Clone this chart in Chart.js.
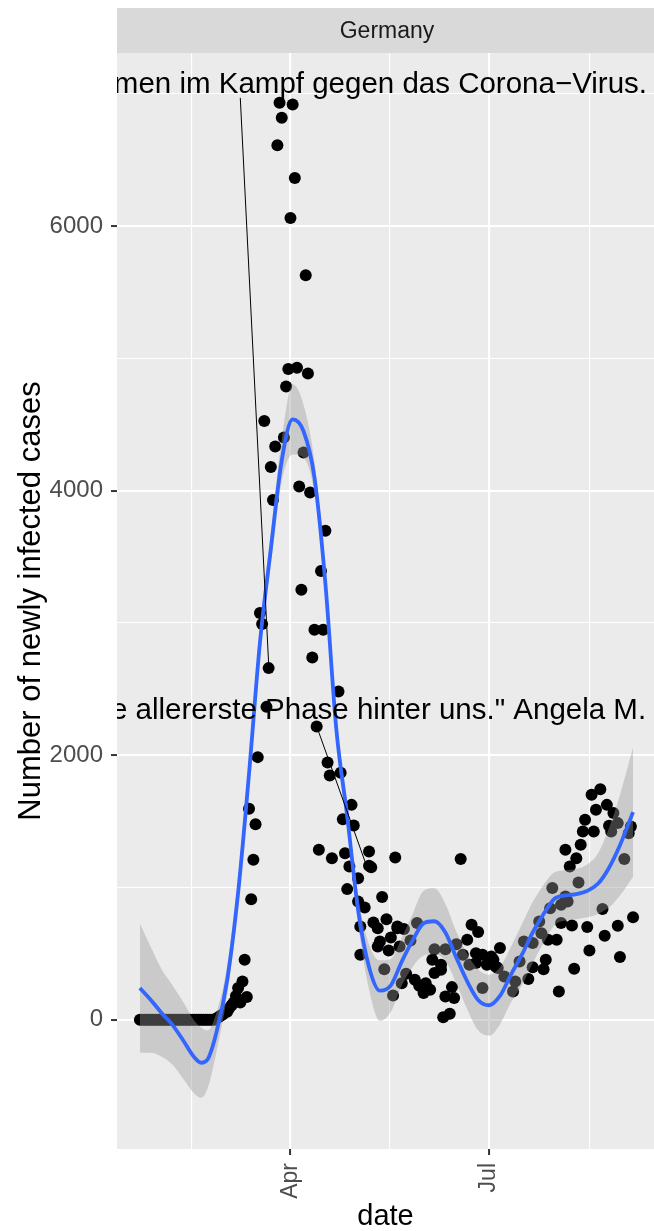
<!DOCTYPE html>
<html>
<head>
<meta charset="utf-8">
<title>Germany - newly infected cases</title>
<script src="https://cdn.jsdelivr.net/npm/chart.js"></script>
<style>
  html, body { margin: 0; padding: 0; background: #ffffff; }
  #chart { display: block; }
</style>
</head>
<body>
<canvas id="chart" width="654" height="1231"></canvas>
<script>
// days are counted from 1 Jan 2020 (= day 0), so 1 Apr is day 91 and 1 Jul is day 182
const caseDay = [
  22, 23, 24, 25, 26, 27, 28, 29, 30, 31, 32, 33, 34, 35, 36, 37, 38, 39, 40, 41,
  42, 43, 44, 45, 46, 47, 48, 49, 50, 51, 52, 53, 54, 55, 56,
  57, 58, 59, 60, 61, 62, 63, 64, 65, 66, 67, 68, 69, 70, 71,
  72, 73, 74, 75, 76, 77, 78, 79, 80, 81, 82, 83, 84, 85, 86, 87, 88, 89, 90, 91,
  92, 93, 94, 95, 96, 97, 98, 99, 100, 101, 102, 103, 104, 105, 106, 107, 108, 109, 110,
  113, 114, 115, 116, 117, 118, 119, 120, 122, 122, 123, 123, 125, 127, 127, 128, 129,
  131, 131, 132, 133, 134, 135, 136, 137, 138, 139, 140, 140, 141, 142, 143, 144, 146,
  148, 149, 150, 152, 153, 155, 156, 157, 157, 160, 160, 161, 162, 162, 164, 165, 166,
  167, 169, 170, 172, 173, 174, 176, 176, 177, 179, 179, 181, 183, 184, 185, 186, 187,
  189, 193, 194, 196, 198, 200, 202, 202, 205, 206, 207, 208, 209, 210, 211, 213, 214,
  215, 215, 217, 217, 218, 219, 220, 221, 222, 223, 224, 225, 226, 227, 228, 229, 230,
  231, 233, 234, 235, 236, 237, 238, 239, 241, 241, 242, 244, 246, 247, 248
];
const caseCount = [
  0, 0, 0, 0, 0, 0, 0, 0, 0, 0, 0, 0, 0, 0, 0, 0, 0, 0, 0, 0,
  0, 0, 0, 0, 0, 0, 0, 0, 0, 0, 0, 0, 0, 0, 0,
  10, 20, 30, 40, 60, 60, 90, 110, 130, 180, 240, 130, 290, 454, 172,
  1595, 912, 1210, 1479, 1986, 3075, 2992, 4528, 2366, 2659, 4180, 3931, 4334, 6612, 6933, 6821, 4402, 4788, 4921, 6063,
  6920, 6365, 4931, 4032, 3251, 4289, 5630, 4886, 3986, 2739, 2949, 2217, 1285, 3394, 2949, 3697, 1945, 1847, 1222,
  2482, 1867, 1517, 1260, 988, 1159, 1625, 1469, 1071, 894, 491, 705, 849, 1164, 1273, 1154, 736,
  554, 693, 592, 928, 383, 761, 524, 622, 184, 1227, 705, 693, 554, 277, 686, 348, 599,
  302, 731, 257, 202, 277, 227, 454, 353, 534, 378, 416, 20, 176, 534, 45, 247, 164,
  572, 1215, 491, 605, 416, 718, 504, 429, 663, 491, 240, 416, 479, 454, 403, 391, 542,
  327, 214, 290, 441, 592, 308, 580, 398, 743, 655, 383, 454, 605, 843, 996, 605, 214,
  869, 731, 1285, 932, 894, 1159, 713, 386, 1222, 1038, 1323, 1424, 1512, 701, 524, 1701, 1424,
  1588, 1744, 837, 635, 1625, 1467, 1424, 1563, 711, 1487, 474, 1215, 1411, 1461, 776
];

// loess fit with its confidence band
const smoothDay = [22, 27, 32, 37, 42, 47, 50, 53, 57, 62, 67, 72, 77, 82, 87, 92, 97, 102, 107, 112, 117, 122, 127, 132, 137, 142, 147, 152, 157, 162, 167, 172, 177, 182, 187, 192, 197, 202, 207, 212, 217, 222, 227, 232, 237, 242, 248];
const smoothFit = [240, 150, 50, -40, -160, -285, -325, -300, -100, 300, 960, 1860, 2850, 3560, 4230, 4540, 4450, 4100, 3300, 2200, 1540, 830, 400, 220, 260, 440, 600, 730, 745, 660, 470, 290, 150, 110, 180, 340, 490, 660, 800, 915, 940, 950, 975, 1030, 1150, 1320, 1570];
const smoothLow = [-250, -250, -280, -340, -450, -560, -590, -520, -250, 190, 850, 1750, 2740, 3440, 4070, 4275, 4250, 3980, 3200, 2100, 1440, 720, 230, -10, 60, 260, 400, 485, 495, 445, 275, 80, -80, -120, -35, 130, 260, 430, 580, 715, 750, 760, 775, 800, 850, 940, 1080];
const smoothHigh = [730, 550, 380, 260, 130, -10, -60, -80, 50, 410, 1070, 1970, 2960, 3680, 4390, 4805, 4650, 4220, 3400, 2300, 1640, 940, 570, 450, 460, 620, 800, 975, 995, 875, 665, 500, 380, 340, 395, 550, 720, 890, 1020, 1115, 1130, 1140, 1175, 1260, 1450, 1700, 2060];

const xBreaks = [45.5, 91, 136.5, 182, 228];
const xLabels = ['', 'Apr', '', 'Jul', ''];
const yBreaks = [0, 1000, 2000, 3000, 4000, 5000, 6000, 7000];
const yLabels = ['0', '', '2000', '', '4000', '', '6000', ''];

// quotes, right end of each text, and the segments pointing at the data
const noteText = [
  'Maßnahmen im Kampf gegen das Corona\u2212Virus.',
  '"Wir haben die allererste Phase hinter uns." Angela M.'
];
const noteDay = [254.4, 254.0];
const noteValue = [7011, 2277];
const segmentDay = [[68.0, 81.1], [103.0, 125.2]];
const segmentValue = [[6971, 2659], [2219, 1195]];

const FONT = '"Liberation Sans", Arial, Helvetica, sans-serif';
Chart.defaults.font.family = FONT;

const points = caseDay.map((d, i) => ({ x: d, y: caseCount[i] }));
const fitLine = smoothDay.map((d, i) => ({ x: d, y: smoothFit[i] }));
const bandHigh = smoothDay.map((d, i) => ({ x: d, y: smoothHigh[i] }));
const bandLow = smoothDay.map((d, i) => ({ x: d, y: smoothLow[i] }));

const segmentSets = segmentDay.map((days, k) => ({
  data: days.map((d, i) => ({ x: d, y: segmentValue[k][i] })),
  showLine: true,
  borderColor: '#000000',
  borderWidth: 1,
  pointRadius: 0,
  fill: false,
  order: 1
}));

const panelPlugin = {
  id: 'panel',
  beforeDraw(chart) {
    const { ctx, chartArea: a } = chart;
    ctx.save();
    ctx.fillStyle = '#EBEBEB';
    ctx.fillRect(a.left, a.top, a.right - a.left, a.bottom - a.top);
    // facet strip
    ctx.fillStyle = '#D9D9D9';
    ctx.fillRect(a.left, 8, a.right - a.left, a.top - 8);
    ctx.fillStyle = '#1A1A1A';
    ctx.font = '23px ' + FONT;
    ctx.textAlign = 'center';
    ctx.textBaseline = 'middle';
    ctx.fillText('Germany', 387, (8 + a.top) / 2 + 1);
    ctx.restore();
  },
  afterDatasetsDraw(chart) {
    const { ctx, chartArea: a, scales } = chart;
    ctx.save();
    ctx.beginPath();
    ctx.rect(a.left, a.top, a.right - a.left, a.bottom - a.top);
    ctx.clip();
    ctx.fillStyle = '#000000';
    ctx.font = '29.5px ' + FONT;
    ctx.textAlign = 'right';
    ctx.textBaseline = 'alphabetic';
    noteText.forEach((t, i) => {
      ctx.fillText(t, scales.x.getPixelForValue(noteDay[i]), scales.y.getPixelForValue(noteValue[i]));
    });
    ctx.restore();
  }
};

const gridColor = (c) => '#FFFFFF';
const gridWidth = (c, labels) => (labels[c.index] ? 2.1 : 1.1);
const tickColor = (c, labels) => (labels[c.index] ? '#333333' : 'rgba(0,0,0,0)');

new Chart(document.getElementById('chart'), {
  type: 'line',
  data: {
    datasets: [
      {
        data: points,
        showLine: false,
        pointRadius: 6,
        pointBackgroundColor: '#000000',
        pointBorderWidth: 0,
        order: 4
      },
      {
        data: bandHigh,
        borderWidth: 0,
        pointRadius: 0,
        cubicInterpolationMode: 'monotone',
        backgroundColor: 'rgba(153,153,153,0.4)',
        fill: '+1',
        order: 3
      },
      {
        data: bandLow,
        borderWidth: 0,
        pointRadius: 0,
        cubicInterpolationMode: 'monotone',
        fill: false,
        order: 3
      },
      {
        data: fitLine,
        borderColor: '#3366FF',
        borderWidth: 3.8,
        pointRadius: 0,
        cubicInterpolationMode: 'monotone',
        fill: false,
        order: 2
      },
      ...segmentSets
    ]
  },
  options: {
    responsive: false,
    animation: false,
    events: [],
    layout: { autoPadding: false, padding: { top: 53, right: 0, bottom: 0, left: 0 } },
    plugins: {
      legend: { display: false },
      tooltip: { enabled: false }
    },
    scales: {
      x: {
        type: 'linear',
        min: 11.5,
        max: 257.6,
        afterFit(scale) {
          scale.height = 82;
          scale.paddingLeft = 0;
          scale.paddingRight = 0;
        },
        afterBuildTicks(scale) { scale.ticks = xBreaks.map(v => ({ value: v })); },
        border: { display: false },
        grid: {
          color: gridColor,
          lineWidth: c => gridWidth(c, xLabels),
          tickColor: c => tickColor(c, xLabels),
          tickWidth: 2,
          tickLength: 6
        },
        ticks: {
          autoSkip: false,
          minRotation: 90,
          maxRotation: 90,
          padding: 8,
          color: '#4D4D4D',
          font: { size: 23 },
          callback: (v, i) => xLabels[i]
        },
        title: {
          display: true,
          text: 'date',
          color: '#000000',
          font: { size: 29, lineHeight: 1 },
          padding: { top: 0, bottom: 0 }
        }
      },
      y: {
        type: 'linear',
        min: -977,
        max: 7310,
        afterFit(scale) {
          scale.width = 117;
          scale.paddingTop = 0;
          scale.paddingBottom = 0;
        },
        afterBuildTicks(scale) { scale.ticks = yBreaks.map(v => ({ value: v })); },
        border: { display: false },
        grid: {
          color: gridColor,
          lineWidth: c => gridWidth(c, yLabels),
          tickColor: c => tickColor(c, yLabels),
          tickWidth: 2,
          tickLength: 6
        },
        ticks: {
          autoSkip: false,
          padding: 8,
          color: '#4D4D4D',
          font: { size: 24 },
          callback: (v, i) => yLabels[i]
        },
        title: {
          display: true,
          text: 'Number of newly infected cases',
          color: '#000000',
          font: { size: 31, lineHeight: 1 },
          padding: { top: 16, bottom: 0 }
        }
      }
    }
  },
  plugins: [panelPlugin]
});
</script>
</body>
</html>
